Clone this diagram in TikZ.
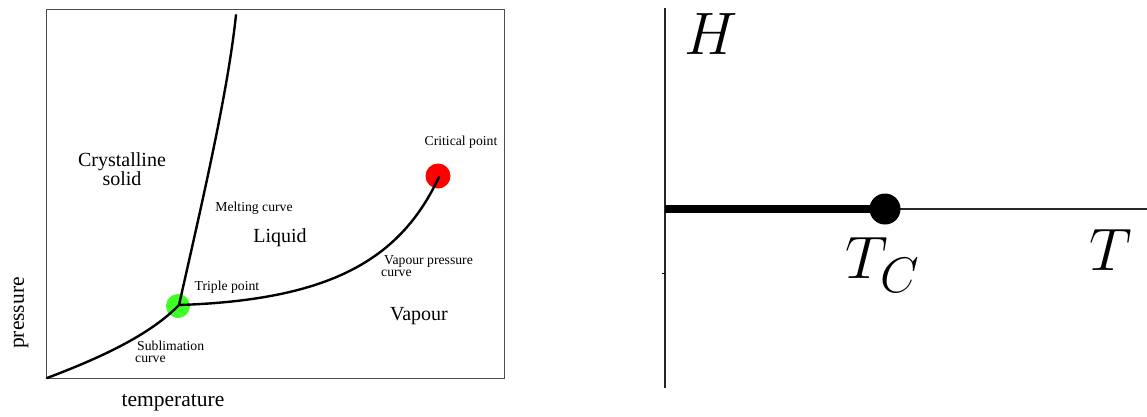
\documentclass[tikz,border=0pt]{standalone}
\usepackage{fontspec}
\newfontfamily\lbl{Liberation Serif}
\begin{document}
\begin{tikzpicture}[x=1pt,y=-1pt,
  curve/.style={line width=2.4pt, line cap=round},
  big/.style={font=\lbl\fontsize{20}{17}\selectfont, align=center, inner sep=0pt},
  small/.style={font=\lbl\fontsize{13.7}{12}\selectfont, align=left, inner sep=0pt},
  axlbl/.style={font=\lbl\fontsize{21.5}{22}\selectfont, inner sep=0pt},
  mlbl/.style={font=\Huge, scale=2.41, inner sep=0pt}]
\useasboundingbox (0,0) rectangle (1147,416);
% left panel
\draw[line width=1pt, black!70] (46,9) rectangle (504,378);
\fill[green!85!lime, opacity=0.85] (178,306) circle (12);
\fill[red] (438,176) circle (12.5);
\coordinate (origin) at (47,378);
\coordinate (triple) at (179,305);
\coordinate (crit) at (439,177);
\coordinate (meltend) at (236,15);
\draw[curve] (origin) .. controls (100,358) and (150,335) .. (triple);
\draw[curve] (triple) .. controls (205,190) and (228,90) .. (meltend);
\draw[curve] (triple) .. controls (330,300) and (400,260) .. (crit);
\node[big] (solid) at (122,169) {Crystalline\\solid};
\node[big] (liquid) at (280,238) {Liquid};
\node[big] (vapour) at (419,316) {Vapour};
\node[small] (melt) at (254,208) {Melting curve};
\node[small] (tp) at (227,287) {Triple point};
\node[small] (cp) at (461,142) {Critical point};
\node[small, anchor=west] (vpc) at (381,266) {\hspace*{3pt}Vapour pressure\\curve};
\node[small, anchor=west] (sub) at (135,352) {\hspace*{2pt}Sublimation\\curve};
\node[axlbl, rotate=90] (press) at (21,313) {pressure};
\node[axlbl] (temp) at (173,403) {temperature};
% right panel
\coordinate (vtop) at (665,8);
\coordinate (vbot) at (665,388);
\coordinate (hleft) at (665,209);
\coordinate (hright) at (1147,209);
\draw[line width=1.5pt, black!85] (vtop) -- (vbot);
\draw[line width=1.5pt, black!85] (hleft) -- (hright);
\draw[line width=1pt] (662,273) -- (665,273);
\node[circle, fill=black, minimum size=31pt, inner sep=0pt] (tc) at (885,209) {};
\draw[line width=8pt] (hleft) -- (tc.center);
\node[mlbl] (H) at (711,34) {$H$};
\node[mlbl] (TC) at (883,265) {$T_C$};
\node[mlbl] (T) at (1111,250) {$T$};
\end{tikzpicture}
\end{document}
